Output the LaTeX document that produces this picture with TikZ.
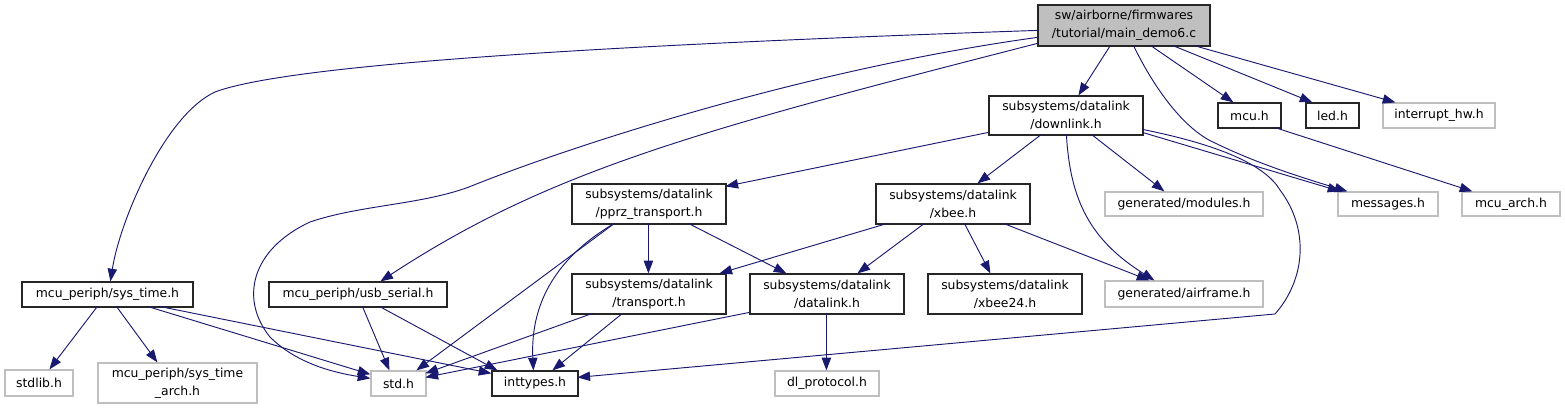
\documentclass[tikz,border=0pt]{standalone}
\usepackage{fontspec}
\setmainfont{DejaVu Sans}
\usetikzlibrary{arrows.meta,calc}
\definecolor{edgeblue}{HTML}{191970}
\definecolor{lightframe}{HTML}{BFBFBF}
\definecolor{mainfill}{HTML}{BFBFBF}
\newcommand\nd[7]{\node[#6, minimum width={(#4-#2)*0.75pt}, minimum height={(#5-#3)*0.75pt}] (#1) at ({(#2+#4)/2},{(#3+#5)/2}) {#7};}
\tikzset{
  every node/.style={font=\fontsize{9.3}{13.5}\selectfont, inner sep=0pt, align=center},
  blk/.style={draw=black!85, fill=white, line width=0.9pt},
  gry/.style={draw=lightframe, fill=white, line width=0.9pt},
  mainbox/.style={draw=black!85, fill=mainfill, line width=0.9pt},
  e/.style={draw=edgeblue, line width=0.7pt, -{Triangle[length=9.5pt,width=7pt]}, edgeblue}
}
\begin{document}
\begin{tikzpicture}[x=0.75pt,y=-0.75pt]
\useasboundingbox (0,0) rectangle (1565,409);
% nodes
\nd{main}{1038}{5}{1210}{46}{mainbox}{sw/airborne/firmwares\\/tutorial/main\_demo6.c}
\nd{downlink}{989}{96}{1143}{135}{blk}{subsystems/datalink\\/downlink.h}
\nd{mcu}{1218}{103}{1281}{128}{blk}{mcu.h}
\nd{led}{1306}{103}{1359}{128}{blk}{led.h}
\nd{interrupt}{1383}{103}{1495}{128}{gry}{interrupt\_hw.h}
\nd{pprz}{572}{184}{726}{224}{blk}{subsystems/datalink\\/pprz\_transport.h}
\nd{xbee}{876}{184}{1030}{224}{blk}{subsystems/datalink\\/xbee.h}
\nd{modules}{1105}{192}{1263}{216}{gry}{generated/modules.h}
\nd{messages}{1338}{192}{1438}{216}{gry}{messages.h}
\nd{mcuarch}{1462}{192}{1560}{216}{gry}{mcu\_arch.h}
\nd{systime}{22}{282}{193}{307}{blk}{mcu\_periph/sys\_time.h}
\nd{usb}{269}{282}{447}{307}{blk}{mcu\_periph/usb\_serial.h}
\nd{transport}{572}{274}{726}{314}{blk}{subsystems/datalink\\/transport.h}
\nd{datalink}{750}{274}{904}{314}{blk}{subsystems/datalink\\/datalink.h}
\nd{xbeetf}{928}{274}{1082}{314}{blk}{subsystems/datalink\\/xbee24.h}
\nd{airframe}{1105}{281}{1263}{307}{gry}{generated/airframe.h}
\nd{stdlib}{5}{370}{73}{396}{gry}{stdlib.h}
\nd{sysarch}{98}{363}{257}{403}{gry}{mcu\_periph/sys\_time\\\_arch.h}
\nd{std}{371}{371}{426}{396}{gry}{std.h}
\nd{inttypes}{492}{371}{578}{396}{blk}{inttypes.h}
\nd{dl}{775}{371}{879}{396}{gry}{dl\_protocol.h}
% edges from main
\draw[e] ($(main.north west)+(0,26)$) .. controls (700,42) and (300,60) .. (215,92) .. controls (165,115) and (120,220) .. ($(systime.north west)+(89,0)$);
\draw[e] ($(main.north west)+(0,33)$) .. controls (800,70) and (560,150) .. (469,187) .. controls (420,205) and (360,205) .. (310,222) .. controls (250,250) and (240,300) .. (270,337) .. controls (295,362) and (330,372) .. ($(std.north west)+(0,8)$);
\draw[e] ($(main.north west)+(0,39)$) .. controls (700,130) and (550,170) .. ($(usb.north west)+(112,0)$);
\draw[e] ($(main.north west)+(73,41)$) -- ($(downlink.north west)+(90,0)$);
\draw[e] ($(main.north west)+(96,41)$) .. controls (1155,90) and (1185,130) .. (1215,143) .. controls (1260,165) and (1310,180) .. ($(messages.north west)+(10,0)$);
\draw[e] ($(main.north west)+(113,41)$) -- ($(mcu.north west)+(16,0)$);
\draw[e] ($(main.north west)+(135,41)$) -- ($(led.north west)+(7,0)$);
\draw[e] ($(main.north west)+(156,41)$) -- ($(interrupt.north west)+(13,0)$);
% edges from downlink
\draw[e] ($(downlink.north west)+(0,37)$) -- ($(pprz.north west)+(154,3)$);
\draw[e] ($(downlink.north west)+(53,39)$) -- ($(xbee.north west)+(102,0)$);
\draw[e] ($(downlink.north west)+(78,39)$) .. controls (1070,200) and (1090,240) .. ($(airframe.north west)+(50,0)$);
\draw[e] ($(downlink.north west)+(103,39)$) -- ($(modules.north west)+(60,0)$);
\draw[e] ($(downlink.north west)+(154,37)$) -- ($(messages.north west)+(3,0)$);
\draw[e] ($(downlink.north west)+(154,34)$) .. controls (1220,145) and (1265,165) .. (1280,190) .. controls (1310,230) and (1305,280) .. (1275,314) -- ($(inttypes.north west)+(86,7)$);
% mcu
\draw[e] ($(mcu.north west)+(57,25)$) -- ($(mcuarch.north west)+(11,0)$);
% pprz
\draw[e] ($(pprz.north west)+(77,40)$) -- ($(transport.north west)+(77,0)$);
\draw[e] ($(pprz.north west)+(117,40)$) -- ($(datalink.north west)+(37,0)$);
\draw[e] ($(pprz.north west)+(43,40)$) -- ($(std.north west)+(46,0)$);
\draw[e] ($(pprz.north west)+(43,40)$) .. controls (560,255) and (530,300) .. ($(inttypes.north west)+(42,0)$);
% xbee
\draw[e] ($(xbee.north west)+(12,40)$) -- ($(transport.north west)+(148,0)$);
\draw[e] ($(xbee.north west)+(49,40)$) -- ($(datalink.north west)+(108,0)$);
\draw[e] ($(xbee.north west)+(89,40)$) -- ($(xbeetf.north west)+(63,0)$);
\draw[e] ($(xbee.north west)+(128,40)$) -- ($(airframe.north west)+(45,0)$);
% transport
\draw[e] ($(transport.north west)+(21,40)$) -- ($(std.north west)+(55,3)$);
\draw[e] ($(transport.north west)+(51,40)$) -- ($(inttypes.north west)+(61,0)$);
% datalink
\draw[e] ($(datalink.north west)+(0,39)$) -- ($(std.north west)+(55,7)$);
\draw[e] ($(datalink.north west)+(77,40)$) -- ($(dl.north west)+(52,0)$);
% sys_time
\draw[e] ($(systime.north west)+(76,25)$) -- ($(stdlib.north west)+(45,0)$);
\draw[e] ($(systime.north west)+(95,25)$) -- ($(sysarch.north west)+(60,0)$);
\draw[e] ($(systime.north west)+(126,25)$) -- ($(std.north west)+(0,4)$);
\draw[e] ($(systime.north west)+(138,25)$) -- ($(inttypes.north west)+(0,3)$);
% usb_serial
\draw[e] ($(usb.north west)+(94,25)$) -- ($(std.north west)+(19,0)$);
\draw[e] ($(usb.north west)+(111,25)$) -- ($(inttypes.north west)+(6,0)$);
\end{tikzpicture}
\end{document}
